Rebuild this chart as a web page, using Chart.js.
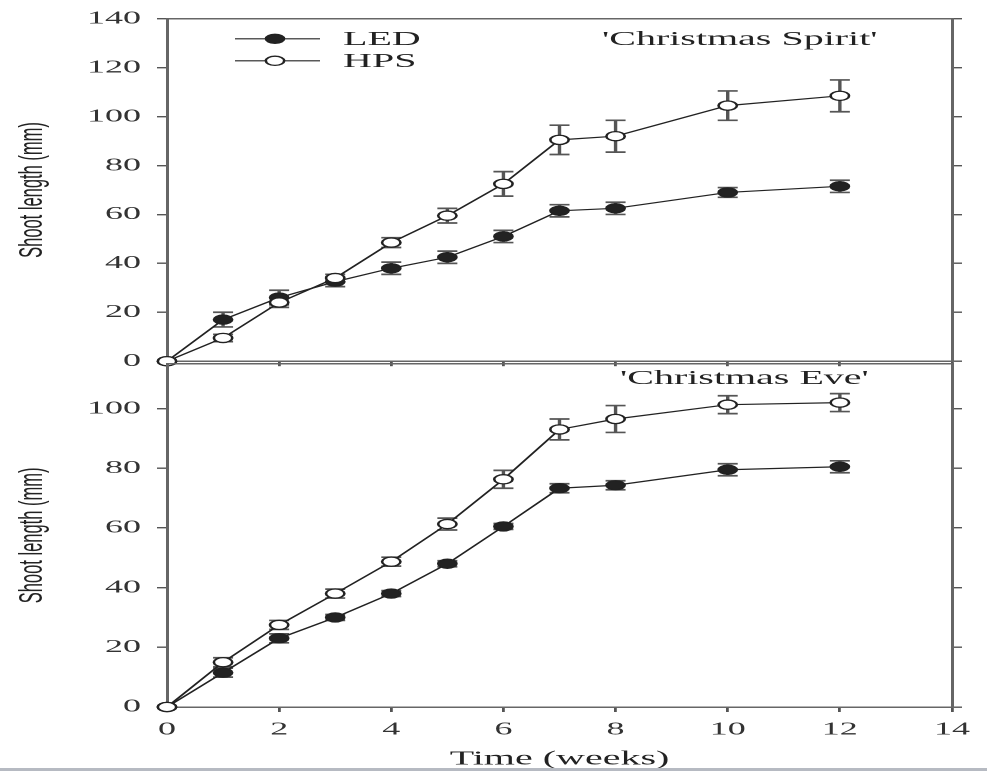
<!DOCTYPE html>
<html>
<head>
<meta charset="utf-8">
<script src="https://cdn.jsdelivr.net/npm/chart.js@4.4.1/dist/chart.umd.min.js"></script>
<style>
  html, body { margin: 0; padding: 0; background: #fff; overflow: hidden; }
  #wrap { position: absolute; left: 0; top: 0; width: 494px; height: 773px; transform: scaleX(2); transform-origin: 0 0; }
  #topChart { position: absolute; left: 0; top: 0; }
  #botChart { position: absolute; left: 0; top: 345px; }
  #rule { position: absolute; left: 0; top: 768px; width: 987px; height: 3px; background: #b6bac2; }
</style>
</head>
<body>
<div id="wrap">
  <canvas id="topChart"></canvas>
  <canvas id="botChart"></canvas>
</div>
<div id="rule"></div>
<script>
// time points (weeks)
const weeks = [0, 1, 2, 3, 4, 5, 6, 7, 8, 10, 12];
const xTicks = [0, 2, 4, 6, 8, 10, 12, 14];

// 'Christmas Spirit'
const spiritLED    = [0, 17, 26, 32.5, 38, 42.5, 51, 61.5, 62.5, 69, 71.5];
const spiritLEDErr = [0, 3, 3, 2, 2.5, 2.5, 2.5, 2.5, 2.5, 2, 2.5];
const spiritHPS    = [0, 9.5, 24, 34, 48.5, 59.5, 72.5, 90.5, 92, 104.5, 108.5];
const spiritHPSErr = [0, 1.5, 2, 1.5, 2, 3, 5, 6, 6.5, 6, 6.5];

// 'Christmas Eve'
const eveLED    = [0, 11.5, 23, 30, 38, 48, 60.5, 73.3, 74.3, 79.5, 80.5];
const eveLEDErr = [0, 1.5, 1.5, 1, 1, 1, 1, 1.5, 1.5, 2, 2];
const eveHPS    = [0, 15, 27.5, 38, 48.7, 61.3, 76.3, 93, 96.5, 101.3, 102];
const eveHPSErr = [0, 1.5, 1.5, 1.5, 1.5, 2, 3, 3.5, 4.5, 3, 3];

const seriesNames = ['LED', 'HPS'];

const SERIF = '"Liberation Serif", "Times New Roman", serif';
const SANS = '"Liberation Sans", Arial, sans-serif';
const AXIS = '#666';
const INK = '#222';

const pts = (vals) => weeks.map((w, i) => ({ x: w, y: vals[i] }));

const ledStyle = {
  borderColor: INK, backgroundColor: INK, pointBackgroundColor: INK,
  pointBorderColor: INK, borderWidth: 1.2, pointRadius: 4.6, pointBorderWidth: 1.2, order: 2, clip: false
};
const hpsStyle = {
  borderColor: INK, backgroundColor: '#fff', pointBackgroundColor: '#fff',
  pointBorderColor: INK, borderWidth: 1.2, pointRadius: 4.6, pointBorderWidth: 1.3, order: 1, clip: false
};

// vertical error bars, drawn under the markers
const errorBars = {
  id: 'errorBars',
  beforeDatasetsDraw(chart) {
    const ctx = chart.ctx;
    const y = chart.scales.y;
    ctx.save();
    ctx.strokeStyle = '#555';
    ctx.lineWidth = 1.7;
    chart.data.datasets.forEach((ds, i) => {
      const meta = chart.getDatasetMeta(i);
      meta.data.forEach((p, j) => {
        const e = ds.errors[j];
        if (!e) return;
        const v = ds.data[j].y;
        const y1 = y.getPixelForValue(v + e);
        const y2 = y.getPixelForValue(v - e);
        ctx.beginPath();
        ctx.moveTo(p.x, y1); ctx.lineTo(p.x, y2);
        ctx.moveTo(p.x - 5, y1); ctx.lineTo(p.x + 5, y1);
        ctx.moveTo(p.x - 5, y2); ctx.lineTo(p.x + 5, y2);
        ctx.stroke();
      });
    });
    ctx.restore();
  }
};

// cultivar label inside the plot
const panelLabel = {
  id: 'panelLabel',
  afterDraw(chart, args, opts) {
    const ctx = chart.ctx;
    const a = chart.chartArea;
    ctx.save();
    ctx.font = '20px ' + SERIF;
    ctx.fillStyle = INK;
    ctx.textBaseline = 'middle';
    ctx.textAlign = 'left';
    ctx.fillText(opts.text, a.left + opts.dx, a.top + opts.dy);
    ctx.restore();
  }
};

// legend drawn inside the top panel
const innerLegend = {
  id: 'innerLegend',
  afterDraw(chart, args, opts) {
    if (!opts.show) return;
    const ctx = chart.ctx;
    const a = chart.chartArea;
    ctx.save();
    chart.data.datasets.forEach((ds, i) => {
      const yy = a.top + 20 + i * 22;
      const x0 = a.left + 34, x1 = a.left + 76.5, xm = a.left + 54;
      ctx.strokeStyle = INK;
      ctx.lineWidth = 1.2;
      ctx.beginPath(); ctx.moveTo(x0, yy); ctx.lineTo(x1, yy); ctx.stroke();
      ctx.beginPath();
      ctx.arc(xm, yy, ds.pointRadius, 0, Math.PI * 2);
      ctx.fillStyle = ds.pointBackgroundColor;
      ctx.fill();
      ctx.lineWidth = ds.pointBorderWidth;
      ctx.stroke();
      ctx.font = '20px ' + SERIF;
      ctx.fillStyle = INK;
      ctx.textBaseline = 'middle';
      ctx.fillText(ds.label, a.left + 88, yy + 1);
    });
    ctx.restore();
  }
};

function makeChart(canvas, cfg) {
  const xAxis = {
    type: 'linear', min: 0, max: 14,
    afterBuildTicks: s => { s.ticks = xTicks.map(v => ({ value: v })); },
    ticks: { display: cfg.bottom, color: '#333', font: { family: SERIF, size: 18 }, padding: 7, maxRotation: 0 },
    grid: { drawOnChartArea: false, drawTicks: true, tickLength: 5, color: '#555', lineWidth: 1.4 },
    border: { color: AXIS, width: 1.5 },
    title: {
      display: cfg.bottom, text: 'Time (weeks)', color: INK,
      font: { family: SERIF, size: 20 }, padding: { top: 0, bottom: 2 }
    },
    afterFit: s => { s.height = cfg.xHeight; }
  };
  const yTicks = [];
  for (let v = 0; v <= cfg.yMax; v += 20) yTicks.push(v);
  const yAxis = {
    type: 'linear', position: 'left', min: 0, max: cfg.yMax,
    afterBuildTicks: s => { s.ticks = yTicks.map(v => ({ value: v })); },
    ticks: { color: '#333', font: { family: SERIF, size: 18 }, padding: 8 },
    grid: { drawOnChartArea: false, tickLength: 5, color: '#555', lineWidth: 1.4 },
    border: { color: AXIS, width: 1.5 },
    title: {
      display: true, text: 'Shoot length (mm)', color: INK,
      font: { family: SANS, size: 16.5 }, padding: { top: 6.5, bottom: 0 }
    },
    afterFit: s => { s.width = 83.5; }
  };
  const yRight = {
    type: 'linear', position: 'right', min: 0, max: cfg.yMax,
    afterBuildTicks: s => { s.ticks = yTicks.map(v => ({ value: v })); },
    ticks: { display: false },
    grid: { drawOnChartArea: false, tickLength: 5, color: '#555', lineWidth: 1.4 },
    border: { color: AXIS, width: 1.5 },
    afterFit: s => { s.width = 18; }
  };
  const xTop = {
    type: 'linear', position: 'top', min: 0, max: 14,
    ticks: { display: false },
    grid: { display: false },
    border: { color: AXIS, width: 1.5 },
    afterFit: s => { s.height = 17; }
  };

  return new Chart(canvas, {
    type: 'line',
    data: {
      datasets: [
        Object.assign({ label: seriesNames[0], data: pts(cfg.led), errors: cfg.ledErr }, ledStyle),
        Object.assign({ label: seriesNames[1], data: pts(cfg.hps), errors: cfg.hpsErr }, hpsStyle)
      ]
    },
    options: {
      responsive: false,
      devicePixelRatio: 2,
      animation: false,
      layout: { padding: 0 },
      scales: { x: xAxis, xt: xTop, y: yAxis, yr: yRight },
      plugins: {
        legend: { display: false },
        tooltip: { enabled: false },
        panelLabel: { text: cfg.title, dx: cfg.labelDx, dy: cfg.labelDy },
        innerLegend: { show: cfg.legend }
      }
    },
    plugins: [errorBars, panelLabel, innerLegend]
  });
}

const topCanvas = document.getElementById('topChart');
topCanvas.width = 494; topCanvas.height = 380;
const botCanvas = document.getElementById('botChart');
botCanvas.width = 494; botCanvas.height = 428;

makeChart(topCanvas, {
  led: spiritLED, ledErr: spiritLEDErr, hps: spiritHPS, hpsErr: spiritHPSErr,
  yMax: 140, xHeight: 18, bottom: false, legend: true,
  title: "'Christmas Spirit'", labelDx: 217.5, labelDy: 21
});

makeChart(botCanvas, {
  led: eveLED, ledErr: eveLEDErr, hps: eveHPS, hpsErr: eveHPSErr,
  yMax: 115, xHeight: 66, bottom: true, legend: false,
  title: "'Christmas Eve'", labelDx: 226.5, labelDy: 15
});
</script>
</body>
</html>
